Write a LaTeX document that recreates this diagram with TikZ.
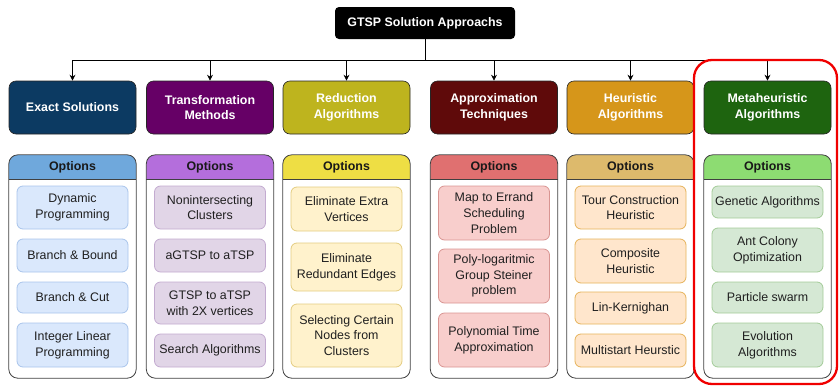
\documentclass[tikz,border=0pt]{standalone}
\usepackage{fontspec}
\setmainfont{Liberation Sans}
\usetikzlibrary{arrows.meta}

% heading colours
\definecolor{hExact}{RGB}{12,58,98}
\definecolor{hTrans}{RGB}{102,0,102}
\definecolor{hRed}{RGB}{190,180,30}
\definecolor{hApprox}{RGB}{95,10,10}
\definecolor{hHeur}{RGB}{214,150,26}
\definecolor{hMeta}{RGB}{30,100,15}
% option band colours
\definecolor{bExact}{RGB}{111,168,220}
\definecolor{bTrans}{RGB}{180,110,220}
\definecolor{bRed}{RGB}{238,222,68}
\definecolor{bApprox}{RGB}{224,112,112}
\definecolor{bHeur}{RGB}{221,186,108}
\definecolor{bMeta}{RGB}{141,220,114}
% option item fills and borders
\definecolor{fExact}{HTML}{DAE8FC}\definecolor{dExact}{HTML}{A9C4EB}
\definecolor{fTrans}{HTML}{E1D5E7}\definecolor{dTrans}{HTML}{C3ABD0}
\definecolor{fRed}{HTML}{FFF2CC}\definecolor{dRed}{HTML}{E3CC80}
\definecolor{fApprox}{HTML}{F8CECC}\definecolor{dApprox}{HTML}{D99592}
\definecolor{fHeur}{HTML}{FFE6CC}\definecolor{dHeur}{HTML}{E6B35A}
\definecolor{fMeta}{HTML}{D5E8D4}\definecolor{dMeta}{HTML}{A3CB98}
\definecolor{hilite}{RGB}{240,0,0}

\tikzset{
  every node/.style={font=\fontsize{12.4}{15.6}\selectfont},
  rootbox/.style={fill=black, rounded corners=4pt, text=white,
    font=\fontsize{12.4}{15.6}\selectfont\bfseries,
    minimum width=180pt, minimum height=32pt, inner sep=0pt},
  headbox/.style={fill=#1, draw=black!85, line width=0.6pt, rounded corners=7pt,
    text=white, font=\fontsize{12.4}{15.6}\selectfont\bfseries, align=center,
    minimum width=127pt, minimum height=53pt, inner sep=0pt},
  panel/.style={minimum width=127pt, minimum height=223pt, inner sep=0pt},
  panelline/.style={draw=black!75, line width=0.8pt},
  optlabel/.style={font=\fontsize{12.4}{15.6}\selectfont\bfseries, text=black!90, inner sep=0pt},
  itembox/.style={fill=f#1, draw=d#1, line width=0.8pt, rounded corners=6pt,
    text=black!88, align=center, minimum width=111pt, inner sep=0pt},
  arr/.style={draw=black, line width=0.7pt, -{Stealth[length=6pt,width=6pt]}},
  hiliteframe/.style={draw=hilite, line width=2.3pt, rounded corners=18pt},
}

% panel with a coloured "Options" band: name, x centre, band colour
\newcommand\OptionsPanel[3]{%
  \node[panel] (#1) at (#2,266.5) {};
  \begin{scope}
    \clip[rounded corners=9pt] (#1.north west) rectangle (#1.south east);
    \fill[#3] (#1.north west) rectangle ([yshift=-25pt]#1.north east);
  \end{scope}
  \draw[panelline] ([yshift=-25pt]#1.north west) -- ([yshift=-25pt]#1.north east);
  \draw[panelline, rounded corners=9pt] (#1.north west) rectangle (#1.south east);
  \node[optlabel] (#1-lbl) at ([yshift=-12.5pt]#1.north) {Options};
}
% option item: name, palette, x centre, top, bottom, text
\newcommand\OptItem[6]{%
  \node[itembox=#2, minimum height={(#5-#4)*1pt}] (#1) at (#3,{(#4+#5)/2}) {#6};
}

\begin{document}
\begin{tikzpicture}[x=1pt,y=-1pt]
\useasboundingbox (0,0) rectangle (839,386);

\node[rootbox] (root) at (425,23) {GTSP Solution Approachs};

\node[headbox=hExact]  (h1) at (72.5,107.5)  {Exact Solutions};
\node[headbox=hTrans]  (h2) at (210,107.5)   {Transformation\\Methods};
\node[headbox=hRed]    (h3) at (346.5,107.5) {Reduction\\Algorithms};
\node[headbox=hApprox] (h4) at (494,107.5)   {Approximation\\Techniques};
\node[headbox=hHeur]   (h5) at (630.5,107.5) {Heuristic\\Algorithms};
\node[headbox=hMeta]   (h6) at (767.5,107.5) {Metaheuristic\\Algorithms};

\foreach \h in {h1,h2,h3,h4,h5,h6}
  \draw[arr] (root.south) -- ++(0,21) -| (\h.north);

\OptionsPanel{c1}{72.5}{bExact}
\OptionsPanel{c2}{210}{bTrans}
\OptionsPanel{c3}{346.5}{bRed}
\OptionsPanel{c4}{494}{bApprox}
\OptionsPanel{c5}{630.5}{bHeur}
\OptionsPanel{c6}{767.5}{bMeta}

\OptItem{e1}{Exact}{72.5}{186}{229}{Dynamic\\Programming}
\OptItem{e2}{Exact}{72.5}{239}{272}{Branch \& Bound}
\OptItem{e3}{Exact}{72.5}{282}{313}{Branch \& Cut}
\OptItem{e4}{Exact}{72.5}{323}{367}{Integer Linear\\Programming}

\OptItem{t1}{Trans}{210}{186}{229}{Nonintersecting\\Clusters}
\OptItem{t2}{Trans}{210}{239}{272}{aGTSP to aTSP}
\OptItem{t3}{Trans}{210}{282}{324}{GTSP to aTSP\\with 2X vertices}
\OptItem{t4}{Trans}{210}{334}{367}{Search Algorithms}

\OptItem{r1}{Red}{346.5}{187}{231}{Eliminate Extra\\Vertices}
\OptItem{r2}{Red}{346.5}{243}{291}{Eliminate\\Redundant Edges}
\OptItem{r3}{Red}{346.5}{304}{367}{Selecting Certain\\Nodes from\\Clusters}

\OptItem{a1}{Approx}{494}{186}{240}{Map to Errand\\Scheduling\\Problem}
\OptItem{a2}{Approx}{494}{249}{303}{Poly-logaritmic\\Group Steiner\\problem}
\OptItem{a3}{Approx}{494}{313}{367}{Polynomial Time\\Approximation}

\OptItem{u1}{Heur}{630.5}{186}{229}{Tour Construction\\Heuristic}
\OptItem{u2}{Heur}{630.5}{239}{283}{Composite\\Heuristic}
\OptItem{u3}{Heur}{630.5}{292}{324}{Lin-Kernighan}
\OptItem{u4}{Heur}{630.5}{334}{367}{Multistart Heurstic}

\OptItem{m1}{Meta}{767.5}{186}{218}{Genetic Algorithms}
\OptItem{m2}{Meta}{767.5}{228}{272}{Ant Colony\\Optimization}
\OptItem{m3}{Meta}{767.5}{282}{313}{Particle swarm}
\OptItem{m4}{Meta}{767.5}{323}{367}{Evolution\\Algorithms}

% highlight around the last column
\draw[hiliteframe] (694,60) rectangle (837,384);
\end{tikzpicture}
\end{document}
